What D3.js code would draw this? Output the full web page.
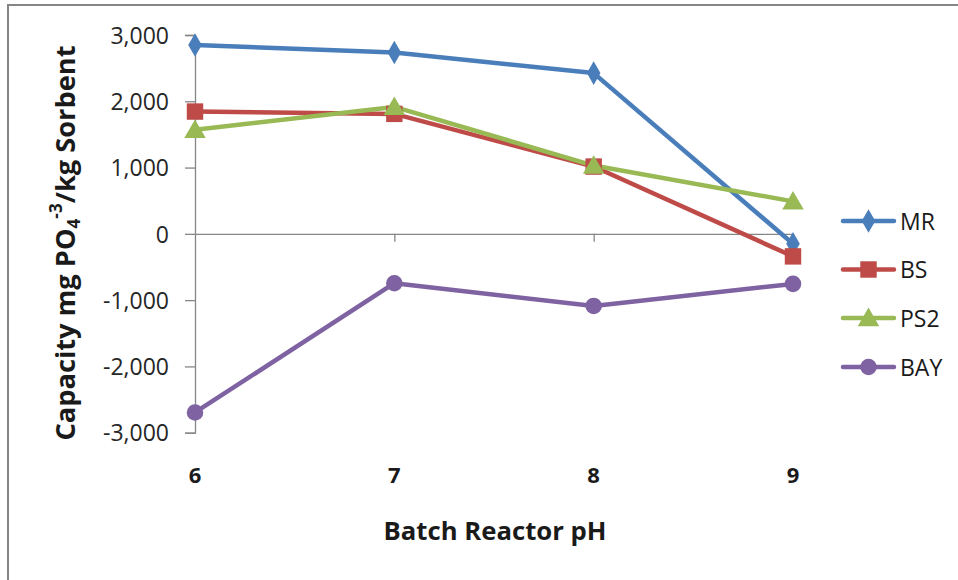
<!DOCTYPE html>
<html>
<head>
<meta charset="utf-8">
<script src="https://cdn.jsdelivr.net/npm/d3@7"></script>
<style>
  html, body { margin: 0; padding: 0; background: #ffffff; }
  svg { display: block; }
</style>
</head>
<body>
<svg id="chart" width="958" height="580"></svg>
<script>
// ---- data ----
const categories = [6, 7, 8, 9];
const seriesNames = ["MR", "BS", "PS2", "BAY"];
const valuesMR  = [2850, 2735, 2425, -150];
const valuesBS  = [1845, 1810, 1015, -340];
const valuesPS2 = [1570, 1915, 1030, 490];
const valuesBAY = [-2695, -745, -1088, -755];
const yTickValues = [3000, 2000, 1000, 0, -1000, -2000, -3000];
const yTickLabels = ["3,000", "2,000", "1,000", "0", "-1,000", "-2,000", "-3,000"];
const xTickLabels = ["6", "7", "8", "9"];
const xTitle = "Batch Reactor pH";

const colors = { MR: "#4A7EBB", BS: "#BE4B48", PS2: "#98B954", BAY: "#7F62A1" };
const markerTypes = { MR: d3.symbolDiamond, BS: d3.symbolSquare, PS2: d3.symbolTriangle, BAY: d3.symbolCircle };
const markerSizes = { MR: 160, BS: 270, PS2: 200, BAY: 215 };
const seriesValues = { MR: valuesMR, BS: valuesBS, PS2: valuesPS2, BAY: valuesBAY };

const svg = d3.select("#chart");
const axisGray = "#868686";
const fontReg = "'Open Sans', 'DejaVu Sans', sans-serif";

// outer frame
svg.append("rect")
  .attr("x", 8).attr("y", 5)
  .attr("width", 1000).attr("height", 700)
  .attr("fill", "#ffffff")
  .attr("stroke", axisGray).attr("stroke-width", 2);

// scales
const x = d3.scaleLinear().domain([6, 9]).range([195, 793]);
const y = d3.scaleLinear().domain([-3000, 3000]).range([432.7, 35]);

// y axis
const yAxis = d3.axisLeft(y)
  .tickValues(yTickValues)
  .tickSize(10)
  .tickPadding(16)
  .tickFormat((d, i) => yTickLabels[i]);
const gy = svg.append("g").attr("transform", "translate(195,0)").call(yAxis);
gy.select(".domain").attr("stroke", axisGray).attr("stroke-width", 1.3);
gy.selectAll(".tick line").attr("stroke", axisGray).attr("stroke-width", 1.3);
gy.selectAll(".tick text")
  .attr("font-family", fontReg).attr("font-size", 23).attr("fill", "#262626")
  .attr("dy", "0.36em");

// x axis line at zero with ticks
const xAxis = d3.axisBottom(x)
  .tickValues(categories.slice(1))
  .tickSize(8)
  .tickSizeOuter(0)
  .tickFormat("");
const gx = svg.append("g").attr("transform", `translate(0,${y(0)})`).call(xAxis);
gx.select(".domain").attr("stroke", axisGray).attr("stroke-width", 1.3);
gx.selectAll(".tick line").attr("stroke", axisGray).attr("stroke-width", 1.3);

// x tick labels (low position)
svg.append("g").selectAll("text")
  .data(categories)
  .join("text")
  .attr("x", d => x(d))
  .attr("y", 483)
  .attr("text-anchor", "middle")
  .attr("font-family", fontReg).attr("font-weight", "bold")
  .attr("font-size", 22).attr("fill", "#1a1a1a")
  .text((d, i) => xTickLabels[i]);

// x title
svg.append("text")
  .attr("x", 495).attr("y", 540)
  .attr("text-anchor", "middle")
  .attr("font-family", fontReg).attr("font-weight", "bold")
  .attr("font-size", 25).attr("fill", "#1a1a1a")
  .attr("textLength", 223).attr("lengthAdjust", "spacingAndGlyphs")
  .text(xTitle);

// y title
const yt = svg.append("text")
  .attr("transform", "translate(75,243) rotate(-90)")
  .attr("text-anchor", "middle")
  .attr("font-family", fontReg).attr("font-weight", "bold")
  .attr("font-size", 27).attr("fill", "#1a1a1a")
  .attr("textLength", 395).attr("lengthAdjust", "spacingAndGlyphs");
yt.append("tspan").text("Capacity mg PO");
yt.append("tspan").attr("font-size", 17).attr("dy", 5).text("4");
yt.append("tspan").attr("font-size", 17).attr("dy", -18).text("-3");
yt.append("tspan").attr("dy", 13).text("/kg Sorbent");

// lines
const line = d3.line().x((d, i) => x(categories[i])).y(d => y(d));
const plot = svg.append("g");
seriesNames.forEach(name => {
  plot.append("path")
    .datum(seriesValues[name])
    .attr("d", line)
    .attr("fill", "none")
    .attr("stroke", colors[name])
    .attr("stroke-width", 4.5)
    .attr("stroke-linejoin", "round")
    .attr("stroke-linecap", "round");
});
seriesNames.forEach(name => {
  plot.append("g").selectAll("path")
    .data(seriesValues[name])
    .join("path")
    .attr("transform", (d, i) => `translate(${x(categories[i])},${y(d) + (name === "PS2" ? 2 : 0)})`)
    .attr("d", d3.symbol().type(markerTypes[name]).size(markerSizes[name]))
    .attr("fill", colors[name]);
});

// legend
const legendRows = [221, 269.5, 318, 367];
const lg = svg.append("g");
seriesNames.forEach((name, i) => {
  const ry = legendRows[i];
  lg.append("line")
    .attr("x1", 843).attr("x2", 894).attr("y1", ry).attr("y2", ry)
    .attr("stroke", colors[name]).attr("stroke-width", 4.5).attr("stroke-linecap", "round");
  lg.append("path")
    .attr("transform", `translate(868.5,${ry + (name === "PS2" ? 2 : 0)})`)
    .attr("d", d3.symbol().type(markerTypes[name]).size(markerSizes[name]))
    .attr("fill", colors[name]);
  lg.append("text")
    .attr("x", 900).attr("y", ry + 8.5)
    .attr("font-family", fontReg).attr("font-size", 23).attr("fill", "#1a1a1a")
    .text(name);
});
</script>
</body>
</html>
